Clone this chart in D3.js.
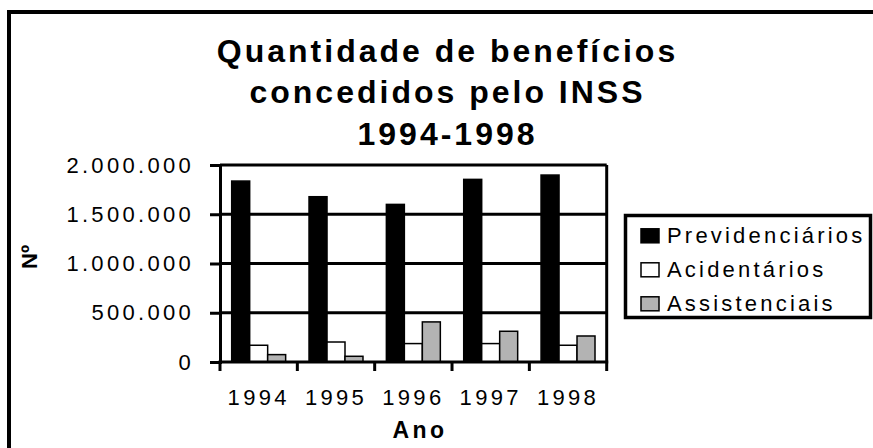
<!DOCTYPE html>
<html>
<head>
<meta charset="utf-8">
<script src="https://cdn.jsdelivr.net/npm/d3@7"></script>
<style>
    body { margin: 0; background: #fff; }
    svg text { font-family: "Liberation Sans", Arial, sans-serif; fill: #000; }
</style>
</head>
<body>
<div id="chart"></div>
<script>
// data
const years = ["1994", "1995", "1996", "1997", "1998"];
const previdenciarios = [1837000, 1678000, 1600000, 1854000, 1898000];
const acidentarios = [170000, 203000, 187000, 187000, 170000];
const assistenciais = [75000, 58000, 407000, 312000, 264000];
const seriesNames = ["Previdenciários", "Acidentários", "Assistenciais"];
const seriesColors = ["#000000", "#ffffff", "#b3b3b3"];
const yTicks = [0, 500000, 1000000, 1500000, 2000000];
const titleLines = ["Quantidade de benefícios", "concedidos pelo INSS", "1994-1998"];

const series = [previdenciarios, acidentarios, assistenciais];

const width = 873;
const height = 448;
// plot area in page pixels
const plot = { left: 220, right: 606.7, top: 165, bottom: 362 };

const svg = d3.select("#chart")
    .append("svg")
    .attr("width", width)
    .attr("height", height);

// outer chart border (runs off the right and bottom edges)
svg.append("rect")
    .attr("x", 9)
    .attr("y", 12)
    .attr("width", 950)
    .attr("height", 600)
    .attr("fill", "none")
    .attr("stroke", "#000")
    .attr("stroke-width", 4);

// title
svg.append("g")
    .selectAll("text")
    .data(titleLines)
    .join("text")
    .attr("x", 447.5)
    .attr("y", (d, i) => 61.7 + i * 41.7)
    .attr("text-anchor", "middle")
    .style("font-size", "32px")
    .style("font-weight", "bold")
    .style("letter-spacing", "3px")
    .text(d => d);

// scales
const x = d3.scaleBand()
    .domain(years)
    .range([plot.left, plot.right]);

const gapRatio = 1.3;
const barW = x.bandwidth() / (series.length + gapRatio);
const xInner = d3.scaleBand()
    .domain(d3.range(series.length))
    .range([barW * gapRatio / 2, barW * gapRatio / 2 + barW * series.length]);

const y = d3.scaleLinear()
    .domain([0, 2000000])
    .range([plot.bottom, plot.top]);

const pt = d3.formatLocale({ decimal: ",", thousands: ".", grouping: [3], currency: ["R$", ""] });
const fmt = pt.format(",d");

// gridlines
svg.append("g")
    .selectAll("line")
    .data(yTicks.slice(1))
    .join("line")
    .attr("x1", plot.left)
    .attr("x2", plot.right)
    .attr("y1", d => y(d))
    .attr("y2", d => y(d))
    .attr("stroke", "#000")
    .attr("stroke-width", 3);

// right edge of plot area
svg.append("line")
    .attr("x1", plot.right)
    .attr("x2", plot.right)
    .attr("y1", plot.top)
    .attr("y2", plot.bottom)
    .attr("stroke", "#000")
    .attr("stroke-width", 3);

// bars
const groups = svg.append("g")
    .selectAll("g")
    .data(series)
    .join("g")
    .attr("fill", (d, i) => seriesColors[i]);

groups.selectAll("rect")
    .data((d, i) => d.map((v, j) => ({ v: v, year: years[j], s: i })))
    .join("rect")
    .attr("x", d => x(d.year) + xInner(d.s))
    .attr("width", barW)
    .attr("y", d => y(d.v))
    .attr("height", d => y(0) - y(d.v))
    .attr("stroke", "#000")
    .attr("stroke-width", 1.5);

// y axis
const yAxis = d3.axisLeft(y)
    .tickValues(yTicks)
    .tickFormat(fmt)
    .tickSize(10)
    .tickPadding(16);
const gy = svg.append("g")
    .attr("transform", `translate(${plot.left},0)`)
    .call(yAxis);
gy.select(".domain").attr("stroke-width", 3);
gy.selectAll(".tick line").attr("stroke-width", 3);
gy.selectAll("text")
    .style("font-size", "22px")
    .style("letter-spacing", "3.3px")
    .attr("fill", "#000");

// x axis: labels at band centres, ticks at band edges
const xAxis = d3.axisBottom(x)
    .tickSize(0)
    .tickPadding(27);
const gx = svg.append("g")
    .attr("transform", `translate(0,${plot.bottom})`)
    .call(xAxis);
gx.select(".domain").remove();
gx.selectAll("text")
    .style("font-size", "22px")
    .style("letter-spacing", "3.3px")
    .attr("fill", "#000");

const edges = years.map(d => x(d)).concat([x.range()[1]]);
svg.append("line")
    .attr("x1", plot.left - 1.5)
    .attr("x2", plot.right + 1.5)
    .attr("y1", plot.bottom)
    .attr("y2", plot.bottom)
    .attr("stroke", "#000")
    .attr("stroke-width", 3);
svg.append("g")
    .selectAll("line")
    .data(edges)
    .join("line")
    .attr("x1", d => d)
    .attr("x2", d => d)
    .attr("y1", plot.bottom)
    .attr("y2", plot.bottom + 9)
    .attr("stroke", "#000")
    .attr("stroke-width", 3);

// axis titles
svg.append("text")
    .attr("x", 420)
    .attr("y", 437.7)
    .attr("text-anchor", "middle")
    .style("font-size", "23px")
    .style("font-weight", "bold")
    .style("letter-spacing", "3.5px")
    .text("Ano");

svg.append("text")
    .attr("transform", "translate(37,257) rotate(-90)")
    .attr("text-anchor", "middle")
    .style("font-size", "22px")
    .style("font-weight", "bold")
    .text("Nº");

// legend
const legend = svg.append("g");
legend.append("rect")
    .attr("x", 625.5)
    .attr("y", 215.5)
    .attr("width", 245)
    .attr("height", 102)
    .attr("fill", "#fff")
    .attr("stroke", "#000")
    .attr("stroke-width", 3.5);

const items = legend.selectAll("g.item")
    .data(seriesNames)
    .join("g")
    .attr("class", "item")
    .attr("transform", (d, i) => `translate(0,${243.3 + i * 34})`);

items.append("rect")
    .attr("x", 641)
    .attr("y", -14.5)
    .attr("width", 18)
    .attr("height", 14)
    .attr("fill", (d, i) => seriesColors[i])
    .attr("stroke", "#000")
    .attr("stroke-width", 1.5);

items.append("text")
    .attr("x", 667)
    .attr("y", 0)
    .style("font-size", "22px")
    .style("letter-spacing", "3.2px")
    .text(d => d);
</script>
</body>
</html>
